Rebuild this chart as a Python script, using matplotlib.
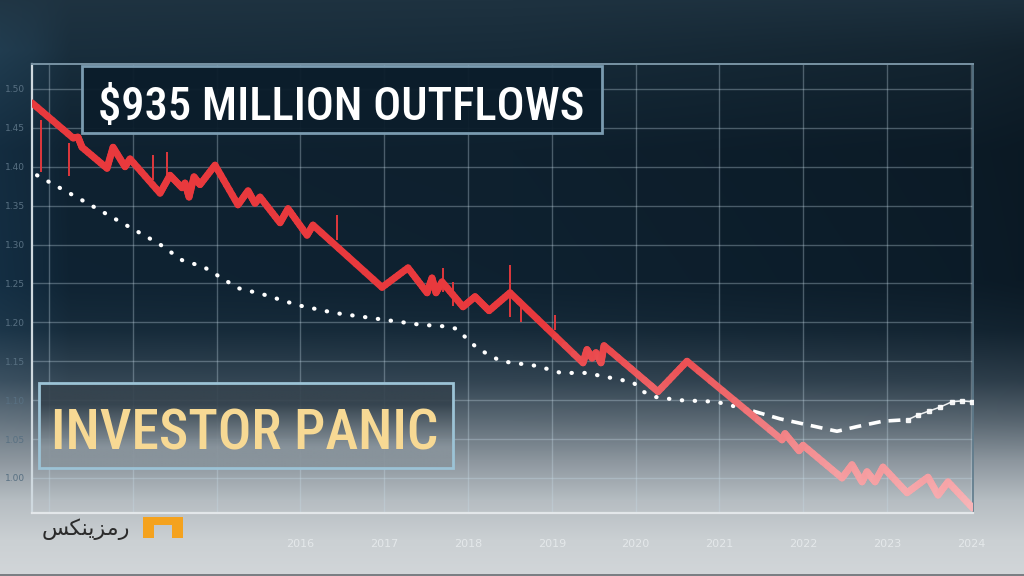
import numpy as np
import matplotlib
matplotlib.use("Agg")
import matplotlib.pyplot as plt
from matplotlib.collections import LineCollection
from matplotlib.patches import Rectangle, Polygon
from matplotlib.colors import to_rgb

# ---- data ----
red_x = [-0.203, 0.286, 0.346, 0.394, 0.692, 0.764, 0.907, 0.967, 1.325, 1.444,
         1.587, 1.623, 1.671, 1.730, 1.802, 1.981, 2.255, 2.375, 2.458, 2.518,
         2.757, 2.852, 3.079, 3.150, 3.974, 4.284, 4.511, 4.570, 4.618, 4.690,
         4.940, 5.084, 5.251, 5.501, 6.372, 6.420, 6.480, 6.527, 6.587, 6.623,
         7.267, 7.613, 8.747, 8.783, 8.950, 8.998, 9.463, 9.582, 9.702, 9.761,
         9.857, 9.952, 10.239, 10.489, 10.609, 10.728, 11.026]
red_y = [1.482, 1.437, 1.438, 1.425, 1.398, 1.425, 1.400, 1.410, 1.366, 1.389,
         1.373, 1.379, 1.361, 1.387, 1.377, 1.402, 1.351, 1.369, 1.353, 1.361,
         1.328, 1.346, 1.312, 1.325, 1.245, 1.270, 1.238, 1.257, 1.238, 1.252,
         1.220, 1.233, 1.215, 1.238, 1.148, 1.165, 1.154, 1.161, 1.148, 1.170,
         1.111, 1.150, 1.049, 1.057, 1.035, 1.042, 1.000, 1.017, 0.995, 1.008,
         0.995, 1.014, 0.981, 1.001, 0.978, 0.995, 0.961]

wick_x = [-0.095, 0.239, 1.241, 1.408, 3.437, 4.702, 4.821, 5.501, 5.632, 6.038]
wick_hi = [1.460, 1.431, 1.415, 1.419, 1.338, 1.270, 1.252, 1.274, 1.225, 1.210]
wick_lo = [1.393, 1.388, 1.383, 1.387, 1.306, 1.239, 1.221, 1.207, 1.201, 1.190]

# moving average: dotted, then dashed, then thin solid part
avg_dot_x = [-0.143, 0.394, 1.050, 1.313, 1.587, 1.850, 2.255, 2.554, 2.971, 3.413,
             4.427, 4.702, 4.857, 5.119, 5.394, 5.823, 6.110, 6.408, 6.969, 7.088,
             7.243, 7.518, 7.959, 8.401]
avg_dot_y = [1.389, 1.357, 1.317, 1.301, 1.280, 1.271, 1.244, 1.236, 1.222, 1.212,
             1.197, 1.195, 1.192, 1.166, 1.150, 1.144, 1.135, 1.135, 1.123, 1.111,
             1.104, 1.100, 1.098, 1.086]
avg_dash_x = [8.401, 8.723, 9.403, 9.642, 9.952, 10.251]
avg_dash_y = [1.086, 1.076, 1.060, 1.066, 1.073, 1.075]
avg_solid_x = [10.251, 10.370, 10.501, 10.632, 10.776, 10.895, 11.014]
avg_solid_y = [1.075, 1.081, 1.086, 1.091, 1.098, 1.099, 1.098]

x_ticks = list(range(12))
x_labels = ["", "", "", "2016", "2017", "2018", "2019", "2020", "2021", "2022", "2023", "2024"]
y_ticks = [1.00, 1.05, 1.10, 1.15, 1.20, 1.25, 1.30, 1.35, 1.40, 1.45, 1.50]

headline = "$935 MILLION OUTFLOWS"
subline = "INVESTOR PANIC"
# "رمزینکس" in presentation forms (matplotlib does no Arabic shaping)
brand = "\uFEB2\uFEDC\uFEE8\uFEF3\uFEB0\uFEE3\uFEAD"

W, H = 1024, 576
fig = plt.figure(figsize=(W / 100, H / 100), dpi=100)

# ---- background gradient ----
bg = fig.add_axes([0, 0, 1, 1], zorder=0)
stops_y = [0, 64, 150, 280, 330, 380, 420, 460, 500, 540, 576]
stops_c = [(30, 50, 64), (22, 42, 56), (14, 32, 46), (14, 33, 48), (22, 42, 57),
           (50, 68, 82), (92, 106, 117), (140, 150, 158), (182, 189, 194),
           (203, 208, 211), (210, 214, 217)]
rows = np.arange(H)
col = np.stack([np.interp(rows, stops_y, [c[i] for c in stops_c]) for i in range(3)], axis=1) / 255
img = np.repeat(col[:, None, :], W, axis=1)
xs = np.arange(W)
shade = np.interp(xs, [0, 32, 70, 512, 950, 1024], [1.38, 1.28, 1.05, 1.0, 0.85, 0.78])
weight = np.interp(rows, [0, 50, 290, 460], [0.2, 1, 1, 0])
fac = 1 + (shade[None, :] - 1) * weight[:, None]
img = np.clip(img * fac[:, :, None], 0, 1)
bg.imshow(img, extent=[0, W, H, 0], aspect="auto", interpolation="bilinear")
bg.set_xlim(0, W)
bg.set_ylim(H, 0)
bg.axis("off")

# ---- main chart ----
ax = fig.add_axes([32 / W, 1 - 513 / H, 941 / W, 449 / H], zorder=1)
ax.patch.set_alpha(0)
ax.set_xlim(-0.203, 11.026)
ax.set_ylim(0.955, 1.532)
ax.set_xticks(x_ticks)
ax.set_xticklabels(x_labels)
ax.set_yticks(y_ticks)
ax.set_yticklabels([f"{v:.2f}" for v in y_ticks])
ax.grid(color="#c8dce8", alpha=0.33, lw=1)
ax.tick_params(length=0)
ax.tick_params(axis="x", pad=19, labelsize=8, labelcolor="#e4e8ea")
ax.tick_params(axis="y", pad=5, labelsize=6.5, labelcolor="#587082")
ax.spines["left"].set_color("#cfd9df")
ax.spines["left"].set_linewidth(1.6)
ax.spines["top"].set_color("#7893a4")
ax.spines["top"].set_linewidth(1.4)
ax.spines["right"].set_color("#5f7b8c")
ax.spines["right"].set_linewidth(1.2)
ax.spines["bottom"].set_color("#e3e7ea")
ax.spines["bottom"].set_linewidth(1.6)

# moving average
ax.plot(avg_dot_x, avg_dot_y, color="white", lw=3, linestyle=(0, (0.1, 3.0)),
        dash_capstyle="round", zorder=3)
ax.plot(avg_dash_x, avg_dash_y, color="white", lw=2.6, linestyle=(0, (3.3, 2.2)),
        dash_capstyle="butt", zorder=3)
ax.plot(avg_solid_x, avg_solid_y, color="white", lw=1.1, alpha=0.9,
        marker="s", ms=3, zorder=3)

# wicks
ax.vlines(wick_x, wick_lo, wick_hi, color="#df383d", lw=1.4, zorder=4)

# price line, reddish at the top fading to pink in the haze
c0 = np.array(to_rgb("#e8393d"))
c1 = np.array(to_rgb("#f8b6b9"))
segs, cols = [], []
for i in range(len(red_x) - 1):
    xa, xb = np.linspace(red_x[i], red_x[i + 1], 9), np.linspace(red_y[i], red_y[i + 1], 9)
    for k in range(8):
        segs.append([(xa[k], xb[k]), (xa[k + 1], xb[k + 1])])
        t = np.clip((1.19 - (xb[k] + xb[k + 1]) / 2) / 0.23, 0, 1)
        cols.append(c0 * (1 - t) + c1 * t)
lc = LineCollection(segs, colors=cols, linewidths=5, capstyle="round", joinstyle="round", zorder=5)
ax.add_collection(lc)

# ---- overlay: captions and logo ----
ov = fig.add_axes([0, 0, 1, 1], zorder=3)
ov.patch.set_alpha(0)
ov.axis("off")

cond = ["Liberation Sans Narrow", "Roboto Condensed", "Liberation Sans", "DejaVu Sans"]

ov.add_patch(Rectangle((82, 66), 520, 67, facecolor="#0b1d2b", alpha=0.95,
                       edgecolor="none"))
ov.add_patch(Rectangle((82, 66), 520, 67, facecolor="none", edgecolor="#7a9bb0", lw=2))
ov.text(341, 120, headline, ha="center", va="baseline", color="white",
        fontsize=33.5, fontweight="medium", family=cond)

grad = np.array([[to_rgb("#35434e")], [to_rgb("#89949c")]])
ov.imshow(grad, extent=[39, 453, 468, 383], aspect="auto", interpolation="bilinear", alpha=0.92)
ov.add_patch(Rectangle((39, 383), 414, 85, facecolor="none", edgecolor="#9cc3d6", lw=2))
ov.text(245, 449, subline, ha="center", va="baseline", color="#f7d994",
        fontsize=40, fontweight="medium", family=cond)

ov.add_patch(Polygon([(143, 517), (183, 517), (183, 538), (172, 538), (172, 525),
                      (154, 525), (154, 538), (143, 538)], closed=True,
                     facecolor="#f4a21e", edgecolor="none"))
ov.text(130, 535, brand, ha="right", va="baseline", color="#2b2b2b",
        fontsize=16, family="DejaVu Sans")
ov.add_patch(Rectangle((0, 574), W, 2, facecolor="#7a7f84", edgecolor="none"))

ov.set_xlim(0, W)
ov.set_ylim(H, 0)

fig.savefig("out.png", dpi=100)
